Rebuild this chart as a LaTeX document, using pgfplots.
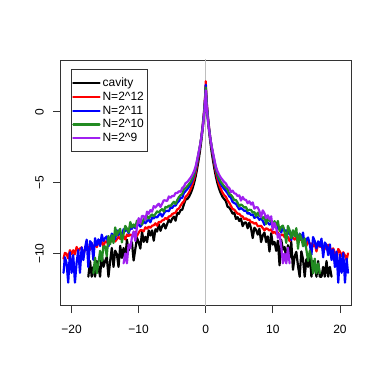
\documentclass[border=0pt]{standalone}
\usepackage{fontspec}
\setmainfont{Liberation Sans}
\usepackage{pgfplots}
\pgfplotsset{compat=1.18}
\definecolor{cblk}{RGB}{0,0,0}
\definecolor{cred}{RGB}{255,0,0}
\definecolor{cblu}{RGB}{0,0,255}
\definecolor{cgrn}{RGB}{34,139,34}
\definecolor{cpur}{RGB}{160,32,240}
\definecolor{cgray}{RGB}{190,190,190}
\begin{document}
\begin{tikzpicture}
\path[use as bounding box] (0,0) rectangle (382bp,381bp);
\begin{axis}[
 at={(60.5bp,75.5bp)}, anchor=south west,
 width=290.5bp, height=245.5bp, scale only axis,
 xmin=-21.65, xmax=21.65, ymin=-13.65, ymax=3.64,
 axis line style={black!80, line width=0.8bp},
 xtick={-20,-10,0,10,20}, xticklabels={−20,−10,0,10,20},
 ytick={-10,-5,0}, yticklabels={−10,−5,0},
 tick align=outside, tick pos=left,
 major tick length=7.5bp,
 tick style={black!80, line width=0.8bp},
 ticklabel style={font=\fontsize{12bp}{14bp}\selectfont},
 xticklabel style={anchor=north, inner sep=0pt, yshift=-11.5bp},
 yticklabel style={rotate=90, anchor=south, inner sep=0pt, yshift=9bp},
 legend style={at={(0.0361,0.962)}, anchor=north west, draw=black!80, line width=0.8bp, fill=white,
   font=\fontsize{12bp}{14bp}\selectfont, inner xsep=1bp, inner ysep=6.5bp, row sep=0pt,
   cells={anchor=west, inner ysep=1.35bp, inner xsep=3.5bp, text height=8.3bp, text depth=2.2bp}},
 legend cell align=left,
 legend image code/.code={\draw[#1, line width=2.2bp] (0bp,0bp) -- (21bp,0bp);\path (0bp,0bp) -- (26bp,0bp);},
 every axis plot/.append style={line width=2.2bp, line join=round, line cap=round, no markers},
]
\addplot[cgray, line width=1bp, forget plot] coordinates {(0,-14) (0,4)};
% cavity
\addplot[cblk] coordinates {
(-17.50,-11.62)(-17.25,-10.52)(-17.00,-11.62)(-16.75,-10.93)(-16.50,-11.62)(-16.25,-10.52)(-16.00,-10.93)(-15.75,-11.62)
(-15.50,-10.01)(-15.25,-10.93)(-15.00,-10.52)(-14.75,-10.23)(-14.50,-11.62)(-14.25,-10.52)(-14.00,-9.60)(-13.75,-10.93)
(-13.50,-9.79)(-13.25,-10.02)(-13.00,-10.93)(-12.75,-9.45)(-12.50,-10.30)(-12.25,-9.60)(-12.00,-10.40)(-11.75,-9.01)
(-11.50,-9.78)(-11.25,-9.39)(-11.00,-9.20)(-10.75,-10.48)(-10.50,-9.69)(-10.25,-8.89)(-10.00,-9.20)(-9.75,-9.64)
(-9.50,-8.45)(-9.25,-9.17)(-9.00,-8.81)(-8.75,-9.19)(-8.50,-8.36)(-8.25,-8.72)(-8.00,-8.36)(-7.75,-9.09)
(-7.50,-8.28)(-7.25,-8.44)(-7.00,-7.92)(-6.75,-8.39)(-6.50,-8.07)(-6.25,-7.89)(-6.00,-8.23)(-5.75,-7.91)
(-5.50,-7.60)(-5.25,-7.79)(-5.00,-7.54)(-4.75,-7.39)(-4.50,-7.68)(-4.25,-7.13)(-4.00,-7.19)(-3.75,-6.93)
(-3.50,-6.90)(-3.25,-6.51)(-3.00,-6.19)
(-2.75,-6.15)(-2.5,-6.0)(-2.25,-5.75)(-2.0,-5.45)(-1.75,-5.05)(-1.5,-4.55)(-1.3,-4.05)(-1.1,-3.5)(-0.9,-2.9)
(-0.7,-2.2)(-0.5,-1.4)(-0.4,-0.95)(-0.3,-0.45)(-0.2,0.1)(-0.1,0.8)(-0.05,1.25)(0,1.8)
(0.05,1.25)(0.1,0.8)(0.2,0.1)(0.3,-0.45)(0.4,-0.95)(0.5,-1.4)(0.7,-2.2)(0.9,-2.9)(1.1,-3.5)(1.3,-4.05)
(1.5,-4.55)(1.75,-5.05)(2.0,-5.45)(2.25,-5.75)(2.5,-6.0)(2.75,-6.15)
(3.00,-6.30)(3.25,-6.69)(3.50,-6.75)(3.75,-6.94)(4.00,-7.18)(4.25,-7.11)(4.50,-7.55)(4.75,-7.43)
(5.00,-7.70)(5.25,-7.52)(5.50,-8.06)(5.75,-7.82)(6.00,-7.80)(6.25,-8.21)(6.50,-7.81)(6.75,-8.21)
(7.00,-8.90)(7.25,-8.17)(7.50,-8.32)(7.75,-8.66)(8.00,-8.24)(8.25,-9.18)(8.50,-8.71)(8.75,-8.51)
(9.00,-9.18)(9.25,-8.78)(9.50,-9.85)(9.75,-8.56)(10.00,-9.36)(10.25,-9.17)(10.50,-9.80)(10.75,-9.08)
(11.00,-10.82)(11.25,-9.02)(11.50,-9.71)(11.75,-9.53)(12.00,-10.47)(12.25,-9.40)(12.50,-10.30)(12.75,-9.17)
(13.00,-11.13)(13.25,-10.18)(13.50,-9.87)(13.75,-10.87)(14.00,-11.62)(14.25,-9.84)(14.50,-10.39)(14.75,-11.62)
(15.00,-10.38)(15.25,-10.93)(15.50,-10.03)(15.75,-11.62)(16.00,-10.52)(16.25,-10.93)(16.50,-11.62)(16.75,-10.52)
(17.00,-11.62)(17.25,-11.62)(17.50,-10.93)(17.75,-11.62)(18.00,-10.52)(18.25,-11.62)(18.50,-10.93)(18.75,-11.62)
};
\addlegendentry{cavity}
% N=2^12
\addplot[cred] coordinates {
(-21.20,-10.35)(-21.00,-9.95)
(-20.75,-10.00)(-20.50,-10.33)(-20.25,-9.75)(-20.00,-10.03)(-19.75,-9.76)(-19.50,-10.04)(-19.25,-9.53)(-19.00,-9.80)
(-18.75,-9.64)(-18.50,-9.56)(-18.25,-10.04)(-18.00,-9.73)(-17.75,-9.43)(-17.50,-9.55)(-17.25,-9.73)(-17.00,-9.26)
(-16.75,-9.54)(-16.50,-9.39)(-16.25,-9.54)(-16.00,-9.19)(-15.75,-9.33)(-15.50,-9.17)(-15.25,-9.49)(-15.00,-9.13)
(-14.75,-9.21)(-14.50,-8.97)(-14.25,-9.20)(-14.00,-9.04)(-13.75,-8.95)(-13.50,-9.14)(-13.25,-8.98)(-13.00,-8.81)
(-12.75,-8.96)(-12.50,-8.82)(-12.25,-8.76)(-12.00,-9.00)(-11.75,-8.65)(-11.50,-8.76)(-11.25,-8.64)(-11.00,-8.75)
(-10.75,-8.58)(-10.50,-8.47)(-10.25,-8.76)(-10.00,-8.52)(-9.75,-8.35)(-9.50,-8.35)(-9.25,-8.43)(-9.00,-8.14)
(-8.75,-8.24)(-8.50,-8.09)(-8.25,-8.18)(-8.00,-8.03)(-7.75,-8.00)(-7.50,-7.86)(-7.25,-8.03)(-7.00,-7.76)
(-6.75,-7.79)(-6.50,-7.66)(-6.25,-7.63)(-6.00,-7.48)(-5.75,-7.57)(-5.50,-7.38)(-5.25,-7.36)(-5.00,-7.21)
(-4.75,-7.15)(-4.50,-7.11)(-4.25,-6.88)(-4.00,-6.82)(-3.75,-6.61)(-3.50,-6.43)(-3.25,-6.31)(-3.00,-6.00)
(-2.75,-5.88)(-2.5,-5.7)(-2.25,-5.45)(-2.0,-5.15)(-1.75,-4.75)(-1.5,-4.25)(-1.3,-3.75)(-1.1,-3.2)(-0.9,-2.6)
(-0.7,-1.95)(-0.5,-1.15)(-0.4,-0.7)(-0.3,-0.2)(-0.2,0.35)(-0.1,1.05)(-0.05,1.55)(0,2.15)
(0.05,1.55)(0.1,1.05)(0.2,0.35)(0.3,-0.2)(0.4,-0.7)(0.5,-1.15)(0.7,-1.95)(0.9,-2.6)(1.1,-3.2)(1.3,-3.75)
(1.5,-4.25)(1.75,-4.75)(2.0,-5.15)(2.25,-5.45)(2.5,-5.7)(2.75,-5.88)
(3.00,-5.99)(3.25,-6.25)(3.50,-6.41)(3.75,-6.63)(4.00,-6.85)(4.25,-6.90)(4.50,-7.04)(4.75,-7.19)
(5.00,-7.19)(5.25,-7.34)(5.50,-7.38)(5.75,-7.57)(6.00,-7.51)(6.25,-7.62)(6.50,-7.61)(6.75,-7.79)
(7.00,-7.79)(7.25,-7.89)(7.50,-7.83)(7.75,-8.07)(8.00,-8.05)(8.25,-8.04)(8.50,-8.20)(8.75,-8.36)
(9.00,-8.21)(9.25,-8.27)(9.50,-8.37)(9.75,-8.29)(10.00,-8.54)(10.25,-8.46)(10.50,-8.60)(10.75,-8.51)
(11.00,-8.79)(11.25,-8.67)(11.50,-8.66)(11.75,-8.84)(12.00,-8.68)(12.25,-8.84)(12.50,-9.12)(12.75,-8.82)
(13.00,-8.88)(13.25,-9.01)(13.50,-8.86)(13.75,-9.19)(14.00,-9.04)(14.25,-8.98)(14.50,-9.22)(14.75,-9.10)
(15.00,-9.46)(15.25,-9.05)(15.50,-9.33)(15.75,-9.28)(16.00,-9.49)(16.25,-9.28)(16.50,-9.84)(16.75,-9.29)
(17.00,-9.52)(17.25,-9.46)(17.50,-9.76)(17.75,-9.43)(18.00,-9.71)(18.25,-9.37)(18.50,-9.99)(18.75,-9.71)
(19.00,-9.63)(19.25,-9.96)(19.50,-10.43)(19.75,-9.67)(20.00,-9.85)(20.25,-10.18)(20.50,-9.90)(20.75,-10.13)
(21.00,-10.45)(21.20,-9.98)
};
\addlegendentry{N=2\textasciicircum 12}
% N=2^11
\addplot[cblu] coordinates {
(-21.20,-11.35)(-21.00,-10.25)
(-20.75,-10.65)(-20.50,-12.04)(-20.25,-9.90)(-20.00,-11.35)(-19.75,-10.10)(-19.50,-12.04)(-19.25,-10.65)(-19.00,-9.75)
(-18.75,-11.35)(-18.50,-9.55)(-18.25,-10.45)(-18.00,-9.60)(-17.75,-9.01)(-17.50,-10.94)(-17.25,-9.12)(-17.00,-9.26)
(-16.75,-10.43)(-16.50,-8.91)(-16.25,-9.41)(-16.00,-8.99)(-15.75,-9.46)(-15.50,-8.66)(-15.25,-9.11)(-15.00,-8.90)
(-14.75,-8.78)(-14.50,-9.48)(-14.25,-9.03)(-14.00,-8.59)(-13.75,-8.75)(-13.50,-8.97)(-13.25,-8.35)(-13.00,-8.69)
(-12.75,-8.51)(-12.50,-8.67)(-12.25,-8.28)(-12.00,-8.42)(-11.75,-8.25)(-11.50,-8.56)(-11.25,-8.18)(-11.00,-8.25)
(-10.75,-8.00)(-10.50,-8.21)(-10.25,-8.04)(-10.00,-7.93)(-9.75,-8.10)(-9.50,-7.93)(-9.25,-7.75)(-9.00,-7.86)
(-8.75,-7.70)(-8.50,-7.61)(-8.25,-7.79)(-8.00,-7.45)(-7.75,-7.52)(-7.50,-7.39)(-7.25,-7.45)(-7.00,-7.28)
(-6.75,-7.17)(-6.50,-7.39)(-6.25,-7.17)(-6.00,-7.01)(-5.75,-6.98)(-5.50,-7.01)(-5.25,-6.74)(-5.00,-6.79)
(-4.75,-6.60)(-4.50,-6.62)(-4.25,-6.41)(-4.00,-6.31)(-3.75,-6.07)(-3.50,-6.07)(-3.25,-5.72)(-3.00,-5.59)
(-2.75,-5.45)(-2.5,-5.3)(-2.25,-5.1)(-2.0,-4.85)(-1.75,-4.5)(-1.5,-4.05)(-1.3,-3.6)(-1.1,-3.1)(-0.9,-2.55)
(-0.7,-1.95)(-0.5,-1.2)(-0.4,-0.75)(-0.3,-0.3)(-0.2,0.25)(-0.1,0.95)(-0.05,1.4)(0,1.9)
(0.05,1.4)(0.1,0.95)(0.2,0.25)(0.3,-0.3)(0.4,-0.75)(0.5,-1.2)(0.7,-1.95)(0.9,-2.55)(1.1,-3.1)(1.3,-3.6)
(1.5,-4.05)(1.75,-4.5)(2.0,-4.85)(2.25,-5.1)(2.5,-5.3)(2.75,-5.45)
(3.00,-5.59)(3.25,-5.74)(3.50,-5.97)(3.75,-6.06)(4.00,-6.36)(4.25,-6.43)(4.50,-6.50)(4.75,-6.69)
(5.00,-6.88)(5.25,-6.79)(5.50,-6.88)(5.75,-6.99)(6.00,-6.96)(6.25,-7.19)(6.50,-7.14)(6.75,-7.28)
(7.00,-7.23)(7.25,-7.48)(7.50,-7.41)(7.75,-7.43)(8.00,-7.62)(8.25,-7.51)(8.50,-7.69)(8.75,-7.97)
(9.00,-7.74)(9.25,-7.81)(9.50,-7.95)(9.75,-7.83)(10.00,-8.17)(10.25,-8.04)(10.50,-8.00)(10.75,-8.24)
(11.00,-8.14)(11.25,-8.51)(11.50,-8.11)(11.75,-8.40)(12.00,-8.36)(12.25,-8.61)(12.50,-8.38)(12.75,-9.04)
(13.00,-8.39)(13.25,-8.68)(13.50,-8.62)(13.75,-9.03)(14.00,-8.59)(14.25,-9.00)(14.50,-8.51)(14.75,-9.42)
(15.00,-9.00)(15.25,-8.86)(15.50,-9.34)(15.75,-10.08)(16.00,-8.83)(16.25,-9.12)(16.50,-9.63)(16.75,-9.13)
(17.00,-9.49)(17.25,-8.94)(17.50,-10.26)(17.75,-9.21)(18.00,-9.40)(18.25,-10.10)(18.50,-9.35)(18.75,-10.45)
(19.00,-9.70)(19.25,-10.94)(19.50,-9.85)(19.75,-12.04)(20.00,-10.05)(20.25,-11.35)(20.50,-9.95)(20.75,-12.04)
(21.00,-10.35)(21.20,-11.35)
};
\addlegendentry{N=2\textasciicircum 11}
% N=2^10
\addplot[cgrn] coordinates {
(-16.75,-11.38)(-16.50,-10.28)(-16.25,-11.38)(-16.00,-10.69)(-15.75,-9.80)(-15.50,-10.52)(-15.25,-9.49)(-15.00,-9.48)
(-14.75,-10.18)(-14.50,-8.76)(-14.25,-9.33)(-14.00,-8.70)(-13.75,-9.25)(-13.50,-8.15)(-13.25,-8.73)(-13.00,-8.40)
(-12.75,-8.26)(-12.50,-9.21)(-12.25,-8.60)(-12.00,-8.04)(-11.75,-8.24)(-11.50,-8.49)(-11.25,-7.77)(-11.00,-8.15)
(-10.75,-7.94)(-10.50,-8.11)(-10.25,-7.67)(-10.00,-7.82)(-9.75,-7.62)(-9.50,-7.95)(-9.25,-7.54)(-9.00,-7.60)
(-8.75,-7.34)(-8.50,-7.52)(-8.25,-7.35)(-8.00,-7.24)(-7.75,-7.37)(-7.50,-7.20)(-7.25,-7.02)(-7.00,-7.10)
(-6.75,-6.96)(-6.50,-6.86)(-6.25,-7.03)(-6.00,-6.70)(-5.75,-6.75)(-5.50,-6.61)(-5.25,-6.65)(-5.00,-6.48)
(-4.75,-6.34)(-4.50,-6.50)(-4.25,-6.23)(-4.00,-6.01)(-3.75,-5.88)(-3.50,-5.79)(-3.25,-5.45)(-3.00,-5.38)
(-2.75,-5.25)(-2.5,-5.1)(-2.25,-4.95)(-2.0,-4.7)(-1.75,-4.4)(-1.5,-3.95)(-1.3,-3.5)(-1.1,-3.0)(-0.9,-2.5)
(-0.7,-1.95)(-0.5,-1.25)(-0.4,-0.85)(-0.3,-0.4)(-0.2,0.15)(-0.1,0.85)(-0.05,1.25)(0,1.7)
(0.05,1.25)(0.1,0.85)(0.2,0.15)(0.3,-0.4)(0.4,-0.85)(0.5,-1.25)(0.7,-1.95)(0.9,-2.5)(1.1,-3.0)(1.3,-3.5)
(1.5,-3.95)(1.75,-4.4)(2.0,-4.7)(2.25,-4.95)(2.5,-5.1)(2.75,-5.25)
(3.00,-5.38)(3.25,-5.47)(3.50,-5.79)(3.75,-5.86)(4.00,-6.01)(4.25,-6.23)(4.50,-6.22)(4.75,-6.41)
(5.00,-6.67)(5.25,-6.53)(5.50,-6.62)(5.75,-6.76)(6.00,-6.71)(6.25,-6.98)(6.50,-6.91)(6.75,-6.92)
(7.00,-7.11)(7.25,-7.07)(7.50,-7.36)(7.75,-7.11)(8.00,-7.34)(8.25,-7.34)(8.50,-7.54)(8.75,-7.40)
(9.00,-7.91)(9.25,-7.46)(9.50,-7.69)(9.75,-7.68)(10.00,-8.01)(10.25,-7.71)(10.50,-8.04)(10.75,-7.70)
(11.00,-8.40)(11.25,-8.11)(11.50,-8.02)(11.75,-8.48)(12.00,-9.24)(12.25,-8.04)(12.50,-8.34)(12.75,-8.91)
(13.00,-8.35)(13.25,-8.78)(13.50,-8.20)(13.75,-9.65)(14.00,-8.60)(14.25,-8.89)(14.50,-9.48)(14.75,-8.92)
(15.00,-9.72)(15.25,-10.51)(15.50,-9.80)(15.75,-10.34)(16.00,-11.38)(16.25,-10.35)(16.50,-11.38)(16.75,-10.69)
(17.00,-11.38)
};
\addlegendentry{N=2\textasciicircum 10}
% N=2^9
\addplot[cpur] coordinates {
(-12.25,-10.68)(-12.00,-9.99)(-11.75,-10.68)(-11.50,-9.35)(-11.25,-9.60)(-11.00,-8.85)(-10.75,-8.43)(-10.50,-9.10)
(-10.25,-8.09)(-10.00,-7.50)(-9.75,-7.85)(-9.50,-7.34)(-9.25,-7.35)(-9.00,-7.59)(-8.75,-7.04)(-8.50,-7.19)
(-8.25,-6.93)(-8.00,-7.04)(-7.75,-6.65)(-7.50,-6.75)(-7.25,-6.60)(-7.00,-6.48)(-6.75,-6.71)(-6.50,-6.48)
(-6.25,-6.24)(-6.00,-6.25)(-5.75,-6.29)(-5.50,-5.97)(-5.25,-6.07)(-5.00,-5.93)(-4.75,-5.95)(-4.50,-5.72)
(-4.25,-5.73)(-4.00,-5.60)(-3.75,-5.65)(-3.50,-5.37)(-3.25,-5.27)(-3.00,-5.03)
(-2.75,-4.95)(-2.5,-4.8)(-2.25,-4.65)(-2.0,-4.45)(-1.75,-4.2)(-1.5,-3.85)(-1.3,-3.4)(-1.1,-2.95)(-0.9,-2.5)
(-0.7,-1.95)(-0.5,-1.3)(-0.4,-0.95)(-0.3,-0.5)(-0.2,0.0)(-0.1,0.65)(-0.05,1.05)(0,1.5)
(0.05,1.05)(0.1,0.65)(0.2,0.0)(0.3,-0.5)(0.4,-0.95)(0.5,-1.3)(0.7,-1.95)(0.9,-2.5)(1.1,-2.95)(1.3,-3.4)
(1.5,-3.85)(1.75,-4.2)(2.0,-4.45)(2.25,-4.65)(2.5,-4.8)(2.75,-4.95)
(3.00,-5.05)(3.25,-5.29)(3.50,-5.37)(3.75,-5.66)(4.00,-5.56)(4.25,-5.75)(4.50,-5.78)(4.75,-5.95)
(5.00,-5.89)(5.25,-6.26)(5.50,-6.00)(5.75,-6.19)(6.00,-6.21)(6.25,-6.45)(6.50,-6.31)(6.75,-6.54)
(7.00,-6.39)(7.25,-6.83)(7.50,-6.73)(7.75,-6.74)(8.00,-7.01)(8.25,-7.42)(8.50,-6.95)(8.75,-7.16)
(9.00,-7.50)(9.25,-7.30)(9.50,-7.58)(9.75,-7.37)(10.00,-8.31)(10.25,-7.84)(10.50,-8.18)(10.75,-8.88)
(11.00,-8.60)(11.25,-9.50)(11.50,-10.68)(11.75,-9.99)(12.00,-10.68)(12.25,-9.58)(12.50,-10.68)
};
\addlegendentry{N=2\textasciicircum 9}
\end{axis}
\end{tikzpicture}
\end{document}
